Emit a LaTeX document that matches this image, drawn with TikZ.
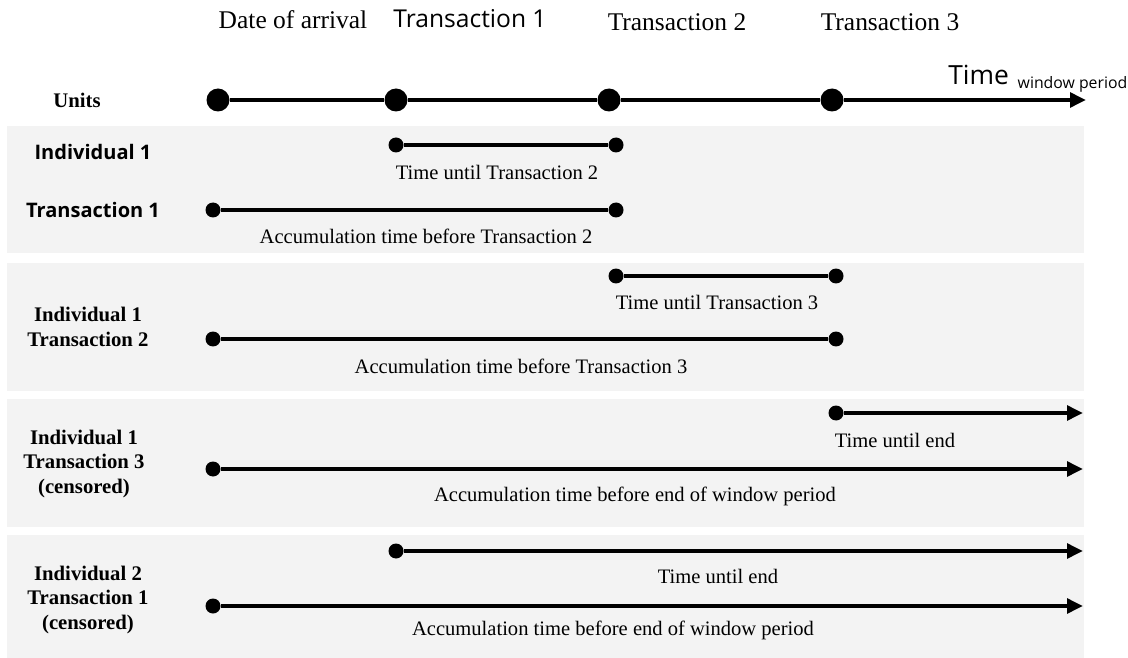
\documentclass[tikz,border=0pt]{standalone}
\usepackage{fontspec}
\setmainfont{Liberation Serif}
\newfontfamily\uisans{Open Sans}
\usetikzlibrary{arrows.meta,positioning}
\definecolor{panelgray}{HTML}{F3F3F3}

\begin{document}
\begin{tikzpicture}[
  x=0.02cm, y=-0.02cm,
  every node/.style={align=center, inner sep=0pt},
  panel/.style={fill=panelgray, draw=none},
  head/.style={font=\fontsize{14.5}{17}\selectfont},
  headsans/.style={font=\uisans\fontsize{14}{16}\selectfont},
  rowlabel/.style={font=\bfseries\fontsize{11.8}{14}\selectfont},
  rowsans/.style={font=\uisans\bfseries\fontsize{11.4}{13}\selectfont},
  span/.style={font=\fontsize{11.7}{14}\selectfont},
  bigdot/.style={circle, fill=black, minimum size=0.46cm},
  dot/.style={circle, fill=black, minimum size=0.3cm},
  bar/.style={line width=2.8pt},
  arrow/.style={line width=2.8pt, -{Triangle[length=0.32cm, width=0.29cm]}}
]

\useasboundingbox (0,0) rectangle (1128,658);

% --- BACKGROUND PANELS ---
\fill[panel] (7,126) rectangle (1084,253);
\fill[panel] (7,263) rectangle (1084,391);
\fill[panel] (7,399) rectangle (1084,527);
\fill[panel] (7,535) rectangle (1084,658);

% --- TIME AXIS ---
\node[head] (arrival) at (293,20) {Date of arrival};
\node[headsans] (trans1) at (470,19) {Transaction 1};
\node[head] (trans2) at (677,22) {Transaction 2};
\node[head] (trans3) at (890,22) {Transaction 3};
\node[anchor=base west] (timelbl) at (948,85) {\uisans\fontsize{15}{18}\selectfont Time\hspace{5pt}\raisebox{-1.8pt}{\fontsize{9}{10}\selectfont window period}};
\node[rowlabel] (units) at (77,100) {Units};

\node[bigdot] (t0) at (218,100) {};
\node[bigdot] (t1) at (396,100) {};
\node[bigdot] (t2) at (609,100) {};
\node[bigdot] (t3) at (832,100) {};
\coordinate (tend) at (1086,100);
\draw[bar] (t0) -- (t1);
\draw[bar] (t1) -- (t2);
\draw[bar] (t2) -- (t3);
\draw[arrow] (t3) -- (tend);

% --- INDIVIDUAL 1, TRANSACTION 1 ---
\node[rowsans] (ind1a) at (93,152) {Individual 1};
\node[rowsans] (ind1b) at (93,210) {Transaction 1};
\node[dot] (a1) at (396,145) {};
\node[dot] (a2) at (616,145) {};
\draw[bar] (a1) -- (a2);
\node[span] (alab1) at (497,172) {Time until Transaction 2};
\node[dot] (a3) at (213,210) {};
\node[dot] (a4) at (616,210) {};
\draw[bar] (a3) -- (a4);
\node[span] (alab2) at (426,236) {Accumulation time before Transaction 2};

% --- INDIVIDUAL 1, TRANSACTION 2 ---
\node[rowlabel] (ind2) at (88,327) {Individual 1\\Transaction 2};
\node[dot] (b1) at (616,276) {};
\node[dot] (b2) at (836,276) {};
\draw[bar] (b1) -- (b2);
\node[span] (blab1) at (717,302) {Time until Transaction 3};
\node[dot] (b3) at (213,339) {};
\node[dot] (b4) at (836,339) {};
\draw[bar] (b3) -- (b4);
\node[span] (blab2) at (521,366) {Accumulation time before Transaction 3};

% --- INDIVIDUAL 1, TRANSACTION 3 (censored) ---
\node[rowlabel] (ind3) at (84,464) {Individual 1\\Transaction 3\\(censored)};
\node[dot] (c1) at (836,413) {};
\coordinate (c2) at (1083,413);
\draw[arrow] (c1) -- (c2);
\node[span] (clab1) at (895,440) {Time until end};
\node[dot] (c3) at (213,469) {};
\coordinate (c4) at (1083,469);
\draw[arrow] (c3) -- (c4);
\node[span] (clab2) at (635,496) {Accumulation time before end of window period};

% --- INDIVIDUAL 2, TRANSACTION 1 (censored) ---
\node[rowlabel] (ind4) at (88,600) {Individual 2\\Transaction 1\\(censored)};
\node[dot] (d1) at (396,551) {};
\coordinate (d2) at (1083,551);
\draw[arrow] (d1) -- (d2);
\node[span] (dlab1) at (718,576) {Time until end};
\node[dot] (d3) at (213,606) {};
\coordinate (d4) at (1083,606);
\draw[arrow] (d3) -- (d4);
\node[span] (dlab2) at (613,630) {Accumulation time before end of window period};

\end{tikzpicture}
\end{document}
